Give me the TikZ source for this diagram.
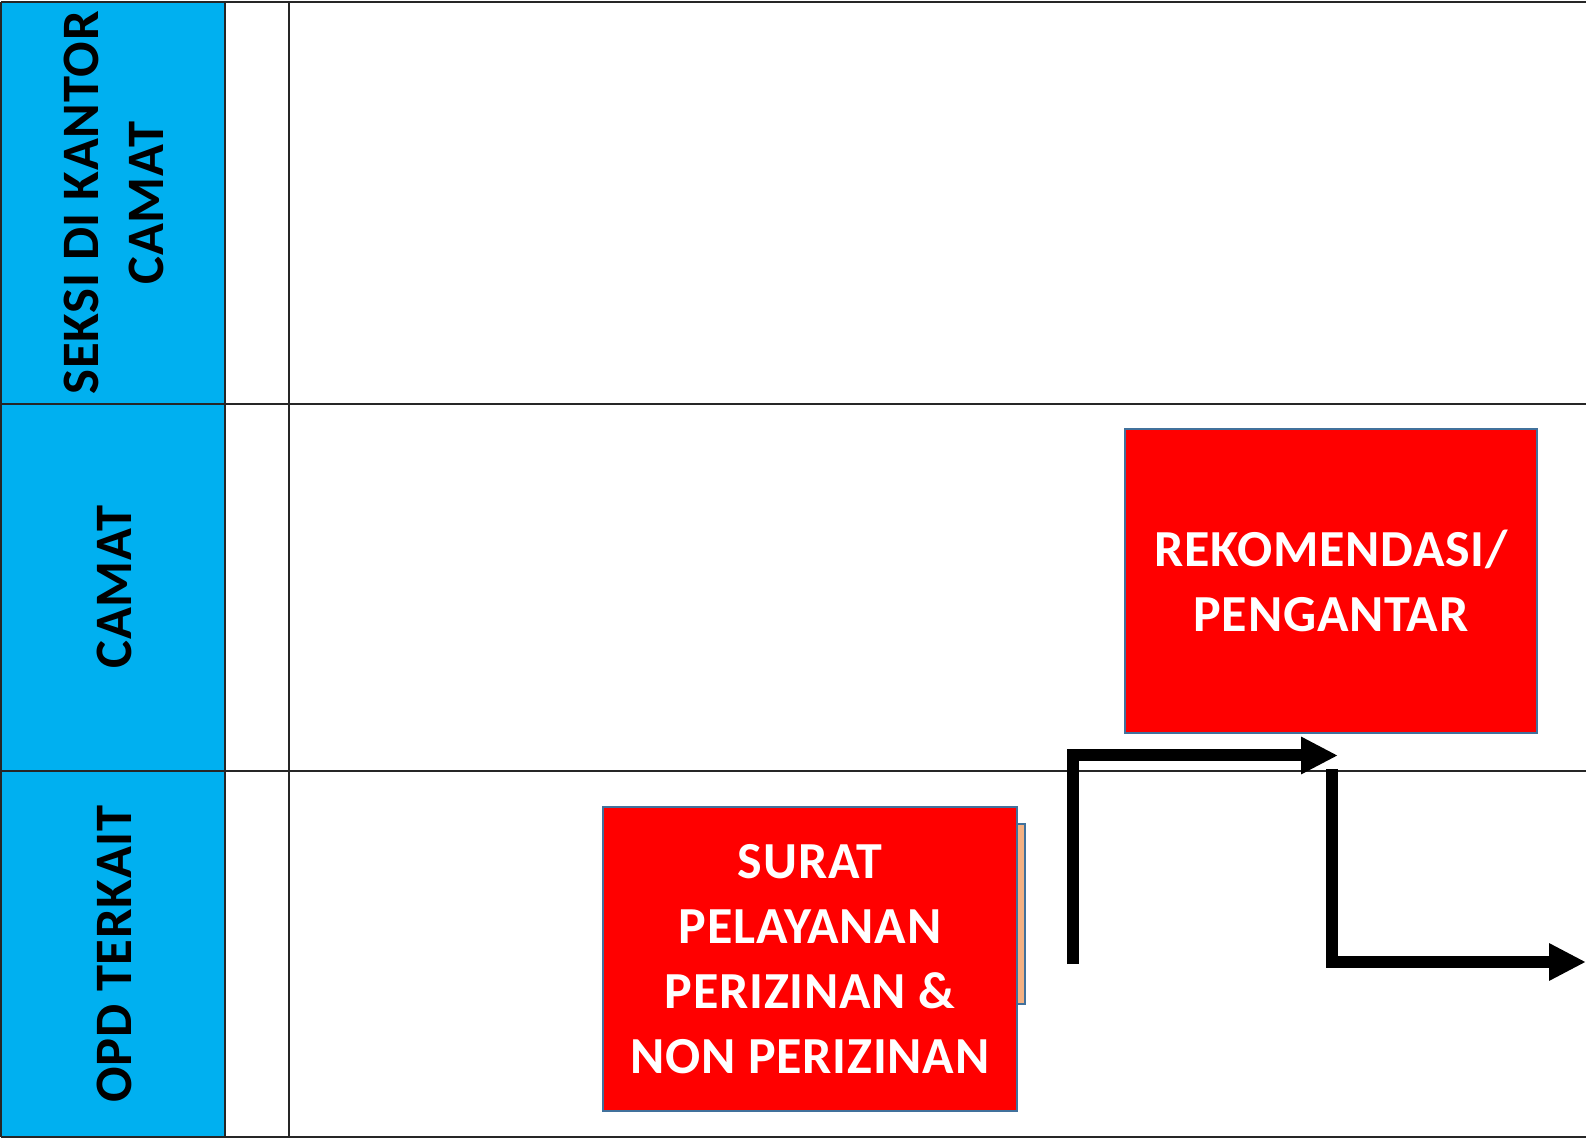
\documentclass[tikz,border=0pt]{standalone}
\usepackage{fontspec}
\setmainfont{Carlito}[LetterSpace=1.5]
\usetikzlibrary{arrows.meta}
\definecolor{lanefill}{HTML}{00B0F0}
\definecolor{boxred}{HTML}{FF0000}
\definecolor{boxedge}{HTML}{41719C}
\definecolor{shadoworange}{HTML}{F4B183}
\tikzset{
  grid/.style={line width=1pt, draw=black!85},
  lanelabel/.style={rotate=90, align=center, font=\bfseries\fontsize{26.3}{32.4}\selectfont, text=black, inner sep=0pt},
  redbox/.style={draw=boxedge, line width=1pt, fill=boxred, text=white, align=center,
    font=\bfseries\fontsize{26}{32.4}\selectfont, inner sep=0pt},
  flow/.style={line width=6pt, draw=black, line join=miter,
    -{Triangle[length=18.5pt, width=17.5pt]}}
}
\begin{document}
\begin{tikzpicture}[x=0.5pt, y=-0.5pt]
\useasboundingbox (0,0) rectangle (1586,1138);
% lane header column
\fill[lanefill] (1,2) rectangle (225,1137);
% grid
\draw[grid] (1,2) -- (1586,2);
\draw[grid] (1,404) -- (1586,404);
\draw[grid] (1,771) -- (1586,771);
\draw[grid] (1,1137) -- (1586,1137);
\draw[grid] (1,2) -- (1,1137);
\draw[grid] (225,2) -- (225,1137);
\draw[grid] (289,2) -- (289,1137);
% lane labels
\node[lanelabel] (lane1) at (114,203) {SEKSI DI KANTOR\\CAMAT};
\node[lanelabel] (lane2) at (114,587) {CAMAT};
\node[lanelabel] (lane3) at (114,954) {OPD TERKAIT};
% shadow behind surat box
\draw[draw=boxedge, line width=1pt, fill=shadoworange] (1000,824) rectangle (1025,1004);
% boxes
\node[redbox, minimum width=207pt, minimum height=152pt] (surat) at (810,959)
  {SURAT\\PELAYANAN\\PERIZINAN \&\\NON PERIZINAN};
\node[redbox, minimum width=206.4pt, minimum height=152pt] (rekom) at (1331,581)
  {REKOMENDASI/\\PENGANTAR};
% connectors
\coordinate (c1start) at (1072.5,964);
\coordinate (c1end) at (1338,755.5);
\coordinate (c2start) at (1332,769);
\coordinate (c2end) at (1586,962);
\draw[flow] (c1start) |- (c1end);
\draw[flow] (c2start) |- (c2end);
\end{tikzpicture}
\end{document}
